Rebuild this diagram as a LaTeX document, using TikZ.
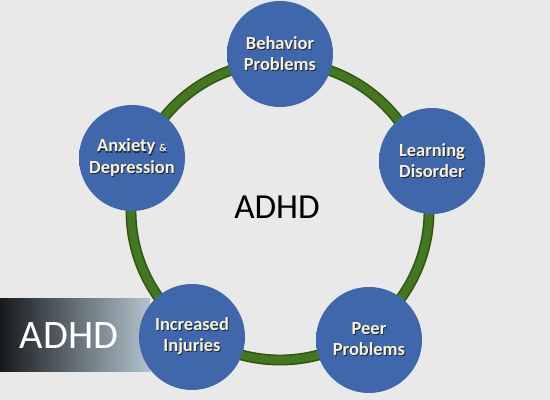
\documentclass[tikz,border=0pt]{standalone}
\usepackage{fontspec}
\setmainfont{Carlito}
\usepackage{xcolor}

\definecolor{bggrey}{HTML}{E9E9E9}
\definecolor{ringgreen}{HTML}{467720}
\definecolor{ringdark}{HTML}{2F5614}
\definecolor{ballblue}{HTML}{4066AB}
\definecolor{balldark}{HTML}{35578F}
\definecolor{ballrim}{HTML}{4A6FB2}
\definecolor{labelcream}{HTML}{F8F3D6}
\definecolor{labelshade}{HTML}{1C2740}
\definecolor{bannerdark}{HTML}{161A1E}
\definecolor{bannerlight}{HTML}{B3C3CD}

\pgfdeclareradialshading{topicball}{\pgfpoint{0bp}{0bp}}{%
  color(0bp)=(ballblue); color(38bp)=(ballblue);
  color(46bp)=(balldark); color(50bp)=(ballrim)}

% label text with a small dark drop shadow
\newcommand{\dropshade}[1]{\leavevmode\rlap{\hspace{0.5pt}\raisebox{-0.6pt}{\color{labelshade}#1}}#1}

\begin{document}
\begin{tikzpicture}[
  topic/.style={circle, shading=topicball, minimum size=2.12cm, inner sep=0pt,
    align=center, text=labelcream, font=\bfseries\fontsize{10.5}{12}\selectfont},
  ring/.style={line width=6.2pt},
]

\fill[bggrey] (0,0) rectangle (11,8);

\coordinate (ctr) at (5.6,3.78);
\draw[ring, ringdark] (ctr) circle (2.98);
\draw[ring, ringgreen, line width=4.4pt] (ctr) circle (2.98);

\shade[left color=bannerdark, right color=bannerlight] (0,0.56) rectangle (3.0,2.02);
\node[text=white, font=\fontsize{23}{23}\selectfont] (tag) at (1.38,1.28) {ADHD};

\node[font=\fontsize{20}{20}\selectfont] (core) at (5.54,3.86) {ADHD};

\node[topic] (behavior) at (5.6,6.92) {\dropshade{Behavior}\\\dropshade{Problems}};
\node[topic] (learning) at (8.64,4.78) {\dropshade{Learning}\\\dropshade{Disorder}};
\node[topic] (peer) at (7.38,1.2) {\dropshade{Peer}\\\dropshade{Problems}};
\node[topic] (injuries) at (3.84,1.26) {\dropshade{Increased}\\\dropshade{Injuries}};
\node[topic] (anxiety) at (2.64,4.84) {\dropshade{Anxiety {\fontsize{6}{7}\selectfont\&}}\\\dropshade{Depression}};

\end{tikzpicture}
\end{document}
